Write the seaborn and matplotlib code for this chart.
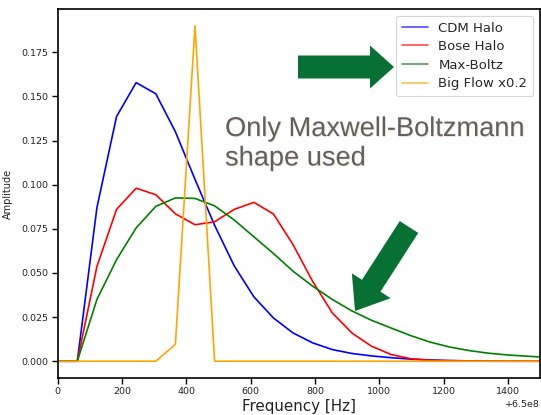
import numpy as np
import pandas as pd
import matplotlib
matplotlib.use("Agg")
import matplotlib.pyplot as plt
import matplotlib.patheffects as pe
from matplotlib.patches import Polygon
import seaborn as sns

# Frequency bins relative to the 650 MHz carrier [Hz]
carrier_hz = 6.5e8
freq_offset = [0, 61, 122, 183, 244, 305, 366, 427, 488, 549, 610, 671, 732,
               793, 854, 915, 976, 1037, 1098, 1159, 1220, 1281, 1342, 1403,
               1464, 1525]

# Line-shape amplitudes for each halo model
cdm_halo = [0, 0, 0.087, 0.1386, 0.1578, 0.1515, 0.130, 0.103, 0.077, 0.054,
            0.0365, 0.0245, 0.016, 0.0104, 0.0066, 0.0044, 0.003, 0.002,
            0.0012, 0.0007, 0.0004, 0.0002, 0.0001, 0.0, 0.0, 0.0]
bose_halo = [0, 0, 0.0537, 0.086, 0.098, 0.0943, 0.0835, 0.0773, 0.079, 0.086,
             0.090, 0.0834, 0.066, 0.0452, 0.0274, 0.016, 0.0085, 0.0038,
             0.0014, 0.0005, 0.0002, 0.0001, 0.0, 0.0, 0.0, 0.0]
max_boltz = [0, 0, 0.035, 0.0575, 0.0755, 0.0877, 0.0925, 0.0922, 0.088, 0.080,
             0.0705, 0.061, 0.051, 0.0425, 0.035, 0.0285, 0.0232, 0.0188,
             0.0145, 0.0108, 0.0080, 0.0060, 0.0045, 0.0035, 0.0028, 0.0022]
big_flow = [0, 0, 0, 0, 0, 0, 0.0095, 0.19, 0, 0, 0, 0, 0, 0, 0, 0, 0, 0, 0,
            0, 0, 0, 0, 0, 0, 0]

series_names = ["CDM Halo", "Bose Halo", "Max-Boltz", "Big Flow x0.2"]
series_values = [cdm_halo, bose_halo, max_boltz, big_flow]
series_colors = ["blue", "red", "green", "orange"]

frames = []
for name, vals in zip(series_names, series_values):
    frames.append(pd.DataFrame({
        "freq": carrier_hz + np.asarray(freq_offset, dtype=float),
        "amp": vals,
        "model": name,
    }))
df = pd.concat(frames, ignore_index=True)

sns.set_theme(style="ticks")
plt.rcParams["font.family"] = ["DejaVu Sans"]

W, H = 541, 415
fig = plt.figure(figsize=(W / 100, H / 100), dpi=100)
ax = fig.add_axes([57.7 / W, 1 - 378 / H, (540 - 57.7) / W, (378 - 9) / H])

sns.lineplot(data=df, x="freq", y="amp", hue="model", hue_order=series_names,
             palette=dict(zip(series_names, series_colors)), linewidth=1.2,
             ax=ax, sort=False, estimator=None)

ax.set_xlim(carrier_hz, carrier_hz + 1500)
ax.set_ylim(-0.0095, 0.1995)
ax.set_xticks(carrier_hz + np.arange(0, 1401, 200))
ax.set_yticks([0.0, 0.025, 0.05, 0.075, 0.1, 0.125, 0.15, 0.175])
ax.yaxis.set_major_formatter(matplotlib.ticker.FormatStrFormatter("%.3f"))

ax.set_xlabel("Frequency [Hz]", fontsize=10.9, color="#222222", labelpad=2)
ax.set_ylabel("Amplitude", fontsize=7, color="#222222", labelpad=6)
ax.tick_params(axis="both", labelsize=6.8, colors="black", labelcolor="#222222",
               length=4, width=1.0, pad=2.5)
ax.xaxis.get_offset_text().set_fontsize(6.8)
ax.xaxis.get_offset_text().set_color("#222222")
for sp in ax.spines.values():
    sp.set_visible(True)
    sp.set_color("black")
    sp.set_linewidth(1.2)

leg = ax.legend(loc="upper right", fontsize=9.5, frameon=True, title=None,
                handlelength=2.0, labelspacing=0.42, borderpad=0.45)
leg.get_frame().set_edgecolor("#cccccc")
leg.get_frame().set_linewidth(0.8)
for line in leg.get_lines():
    line.set_linewidth(1.2)
    line.set_alpha(0.7)

# Callout text
fig.text(225 / W, 1 - 116 / H, "Only Maxwell-Boltzmann\nshape used",
         fontsize=19.6, family=["Liberation Sans", "DejaVu Sans"],
         color="#606060", ha="left", va="top", linespacing=1.17,
         path_effects=[pe.SimplePatchShadow(offset=(0.6, -0.6),
                                            shadow_rgbFace="#d8a060",
                                            alpha=0.35),
                       pe.Normal()])


def block_arrow(tail, tip, shaft_w, head_w, head_len, color="#077033"):
    tail = np.asarray(tail, float)
    tip = np.asarray(tip, float)
    d = tip - tail
    L = np.hypot(*d)
    u = d / L
    n = np.array([-u[1], u[0]])
    base = tip - u * head_len
    pts = [tail + n * shaft_w / 2, base + n * shaft_w / 2, base + n * head_w / 2,
           tip, base - n * head_w / 2, base - n * shaft_w / 2,
           tail - n * shaft_w / 2]
    pts = [(p[0] / W, 1 - p[1] / H) for p in pts]
    fig.patches.append(Polygon(pts, closed=True, transform=fig.transFigure,
                               facecolor=color, edgecolor="none", zorder=5))


# Arrow pointing at the legend entry, and arrow pointing at the curve tail
block_arrow((298, 67), (394, 67), shaft_w=23, head_w=43, head_len=24)
block_arrow((409, 227), (355, 311), shaft_w=22, head_w=46, head_len=30)

fig.savefig("out.png", dpi=100)
